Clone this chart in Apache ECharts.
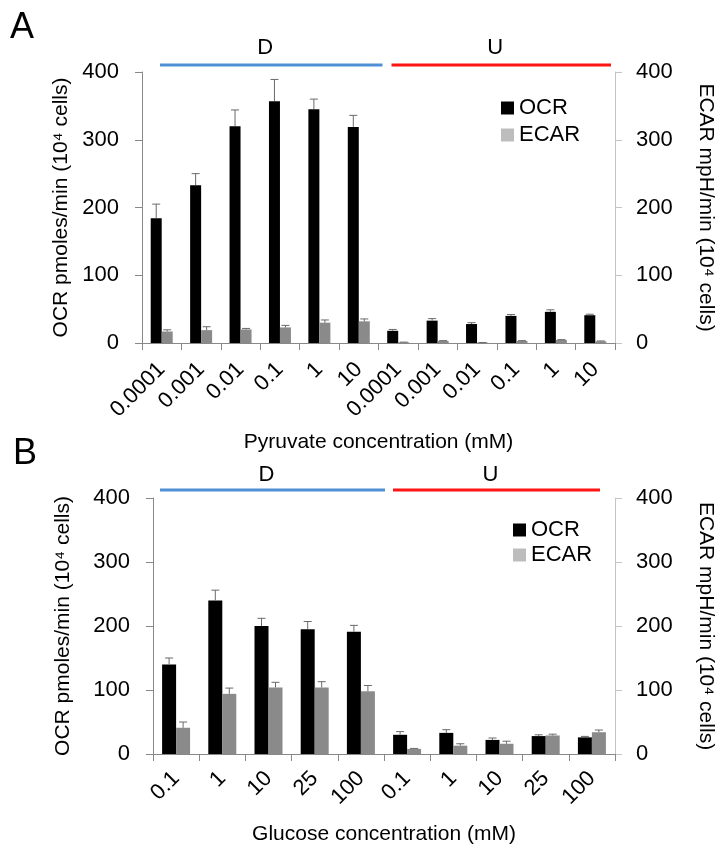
<!DOCTYPE html>
<html>
<head>
<meta charset="utf-8">
<script src="https://cdn.jsdelivr.net/npm/echarts@6/dist/echarts.min.js"></script>
<style>html,body{margin:0;padding:0;background:#fff}#c{width:724px;height:852px}</style>
</head>
<body>
<div id="c"></div>
<script>
// ---- Data ----
const pyruvateCats = ['0.0001','0.001','0.01','0.1','1','10','0.0001','0.001','0.01','0.1','1','10'];
const ocrA     = [184, 233, 320, 357, 345, 319, 18, 33, 28, 40, 46, 41];
const ocrAErr  = [21, 17, 24, 32, 15, 17, 2, 3, 2, 2, 3, 1.5];
const ecarA    = [17, 19, 20, 23, 30, 32, 1, 3, 0.5, 3, 4.5, 2.5];
const ecarAErr = [2.5, 5, 1.5, 3, 4, 3.5, 0.3, 0.5, 0.2, 0.5, 0.5, 0.5];

const glucoseCats = ['0.1','1','10','25','100','0.1','1','10','25','100'];
const ocrB     = [140, 240, 200, 195, 191, 30, 33, 22, 28, 26];
const ocrBErr  = [10, 16, 12, 12, 10, 5, 5, 3, 2, 1.5];
const ecarB    = [41, 94, 104, 104, 98, 8, 13, 16, 29, 34];
const ecarBErr = [9, 9, 8, 9, 9, 0.7, 3, 4, 2, 3.5];

const groupLabels = ['D', 'U'];
const groupsA = [[0, 5, 400], [6, 11, 400]];
const groupsB = [[0, 4, 400], [5, 9, 400]];
const yTicks = [0, 100, 200, 300, 400];

// ---- Styles ----
const FONT = 'Liberation Sans, Arial, sans-serif';
const OCR_COLOR = '#000000';
const ECAR_COLOR = '#8a8a8a';
const ECAR_LEGEND = '#bdbdbd';
const ERR_COLOR = '#6a6a6a';
const GROUP_COLORS = ['#4f8fd6', '#ff1414'];

function errSeries(name, xi, yi, vals, errs, side, barW) {
  return {
    type: 'custom', name: name, xAxisIndex: xi, yAxisIndex: yi, z: 5, silent: true,
    data: vals.map((v, i) => [i, v, errs[i]]),
    encode: {x: 0, y: 1},
    renderItem: function (params, api) {
      const i = api.value(0), v = api.value(1), e = api.value(2);
      const p0 = api.coord([i, v]);
      const p1 = api.coord([i, v + e]);
      const cx = p0[0] + side * barW / 2;
      const cap = 4;
      return {
        type: 'group',
        children: [
          {type: 'line', shape: {x1: cx, y1: p0[1], x2: cx, y2: p1[1]}, style: {stroke: ERR_COLOR, lineWidth: 1}},
          {type: 'line', shape: {x1: cx - cap, y1: p1[1], x2: cx + cap, y2: p1[1]}, style: {stroke: ERR_COLOR, lineWidth: 1}}
        ]
      };
    }
  };
}

function groupSeries(xi, yi, groups, offs, lineDy, textDy) {
  return {
    type: 'custom', xAxisIndex: xi, yAxisIndex: yi, silent: true, clip: false, z: 6,
    data: groups,
    encode: {x: [0, 1], y: 2},
    renderItem: function (params, api) {
      const w = api.size([1, 0])[0];
      const a = api.coord([api.value(0), api.value(2)]);
      const b = api.coord([api.value(1), api.value(2)]);
      const o = offs[params.dataIndex];
      const x1 = a[0] - w / 2 + o[0];
      const x2 = b[0] + w / 2 + o[1];
      const y = a[1] + lineDy;
      return {
        type: 'group',
        children: [
          {type: 'line', shape: {x1: x1, y1: y, x2: x2, y2: y}, style: {stroke: GROUP_COLORS[params.dataIndex], lineWidth: 3}},
          {type: 'text', style: {x: (x1 + x2) / 2 - 6, y: a[1] + textDy, text: groupLabels[params.dataIndex], fill: '#000', font: '22px ' + FONT, textAlign: 'center', textVerticalAlign: 'middle'}}
        ]
      };
    }
  };
}

function yAxisDef(gi, pos, name, gap, lineColor) {
  return {
    gridIndex: gi, type: 'value', position: pos, min: 0, max: 400, interval: 100,
    axisLine: {show: true, lineStyle: {color: lineColor}},
    axisTick: {show: true, length: 7, lineStyle: {color: lineColor}},
    splitLine: {show: false},
    axisLabel: {fontSize: 22, color: '#000', fontFamily: FONT, margin: pos === 'left' ? 23 : 21},
    name: name, nameLocation: 'middle', nameRotate: pos === 'left' ? 90 : -90, nameGap: gap,
    nameTextStyle: {fontSize: 21, color: '#000', fontFamily: FONT}
  };
}

function xAxisDef(gi, cats, name, gap, margin) {
  return {
    gridIndex: gi, type: 'category', data: cats,
    axisLine: {show: true, lineStyle: {color: '#888'}},
    axisTick: {show: true, length: 7, alignWithLabel: false, lineStyle: {color: '#888'}},
    axisLabel: {rotate: 45, interval: 0, fontSize: 22, color: '#000', fontFamily: FONT, margin: margin},
    name: name, nameLocation: 'middle', nameGap: gap,
    nameTextStyle: {fontSize: 21, color: '#000', fontFamily: FONT}
  };
}

const legendData = [
  {name: 'OCR', itemStyle: {color: OCR_COLOR}},
  {name: 'ECAR', itemStyle: {color: ECAR_LEGEND}}
];

const option = {
  animation: false,
  backgroundColor: '#fff',
  textStyle: {fontFamily: FONT},
  title: [
    {text: 'A', left: 5, top: 5, textStyle: {fontSize: 36, fontWeight: 'normal', color: '#000', fontFamily: FONT}},
    {text: 'B', left: 8, top: 431, textStyle: {fontSize: 36, fontWeight: 'normal', color: '#000', fontFamily: FONT}}
  ],
  legend: [
    {data: legendData, orient: 'vertical', left: 496, top: 92, itemWidth: 13, itemHeight: 13, itemGap: 5, icon: 'rect',
      textStyle: {fontSize: 22, color: '#000', fontFamily: FONT}},
    {data: legendData, orient: 'vertical', left: 508, top: 514, itemWidth: 13, itemHeight: 13, itemGap: 3, icon: 'rect',
      textStyle: {fontSize: 22, color: '#000', fontFamily: FONT}}
  ],
  grid: [
    {left: 142, top: 72, width: 477, height: 271},
    {left: 153, top: 498, width: 466, height: 256}
  ],
  xAxis: [
    xAxisDef(0, pyruvateCats, 'Pyruvate concentration (mM)', 89, 23),
    xAxisDef(1, glucoseCats, 'Glucose concentration (mM)', 70, 21)
  ],
  yAxis: [
    yAxisDef(0, 'left', 'OCR pmoles/min (10\u2074 cells)', 68, '#888'),
    yAxisDef(0, 'right', 'ECAR mpH/min (10\u2074 cells)', 80, '#c4c4c4'),
    yAxisDef(1, 'left', 'OCR pmoles/min (10\u2074 cells)', 79, '#888'),
    yAxisDef(1, 'right', 'ECAR mpH/min (10\u2074 cells)', 80, '#c4c4c4')
  ],
  series: [
    {name: 'OCR', type: 'bar', xAxisIndex: 0, yAxisIndex: 0, data: ocrA, barWidth: 11, barGap: '0%', itemStyle: {color: OCR_COLOR}},
    {name: 'ECAR', type: 'bar', xAxisIndex: 0, yAxisIndex: 1, data: ecarA, barWidth: 11, barGap: '0%', itemStyle: {color: ECAR_COLOR}},
    errSeries('OCR', 0, 0, ocrA, ocrAErr, -1, 11),
    errSeries('ECAR', 0, 1, ecarA, ecarAErr, 1, 11),
    {name: 'OCR', type: 'bar', xAxisIndex: 1, yAxisIndex: 2, data: ocrB, barWidth: 14, barGap: '0%', itemStyle: {color: OCR_COLOR}},
    {name: 'ECAR', type: 'bar', xAxisIndex: 1, yAxisIndex: 3, data: ecarB, barWidth: 14, barGap: '0%', itemStyle: {color: ECAR_COLOR}},
    errSeries('OCR', 1, 2, ocrB, ocrBErr, -1, 14),
    errSeries('ECAR', 1, 3, ecarB, ecarBErr, 1, 14),
    groupSeries(0, 0, groupsA, [[18, 4], [13, -4]], -7, -24),
    groupSeries(1, 2, groupsB, [[7, 1], [9, -15]], -8, -23)
  ]
};

const chart = echarts.init(document.getElementById('c'), null, {renderer: 'canvas'});
chart.setOption(option);
</script>
</body>
</html>
